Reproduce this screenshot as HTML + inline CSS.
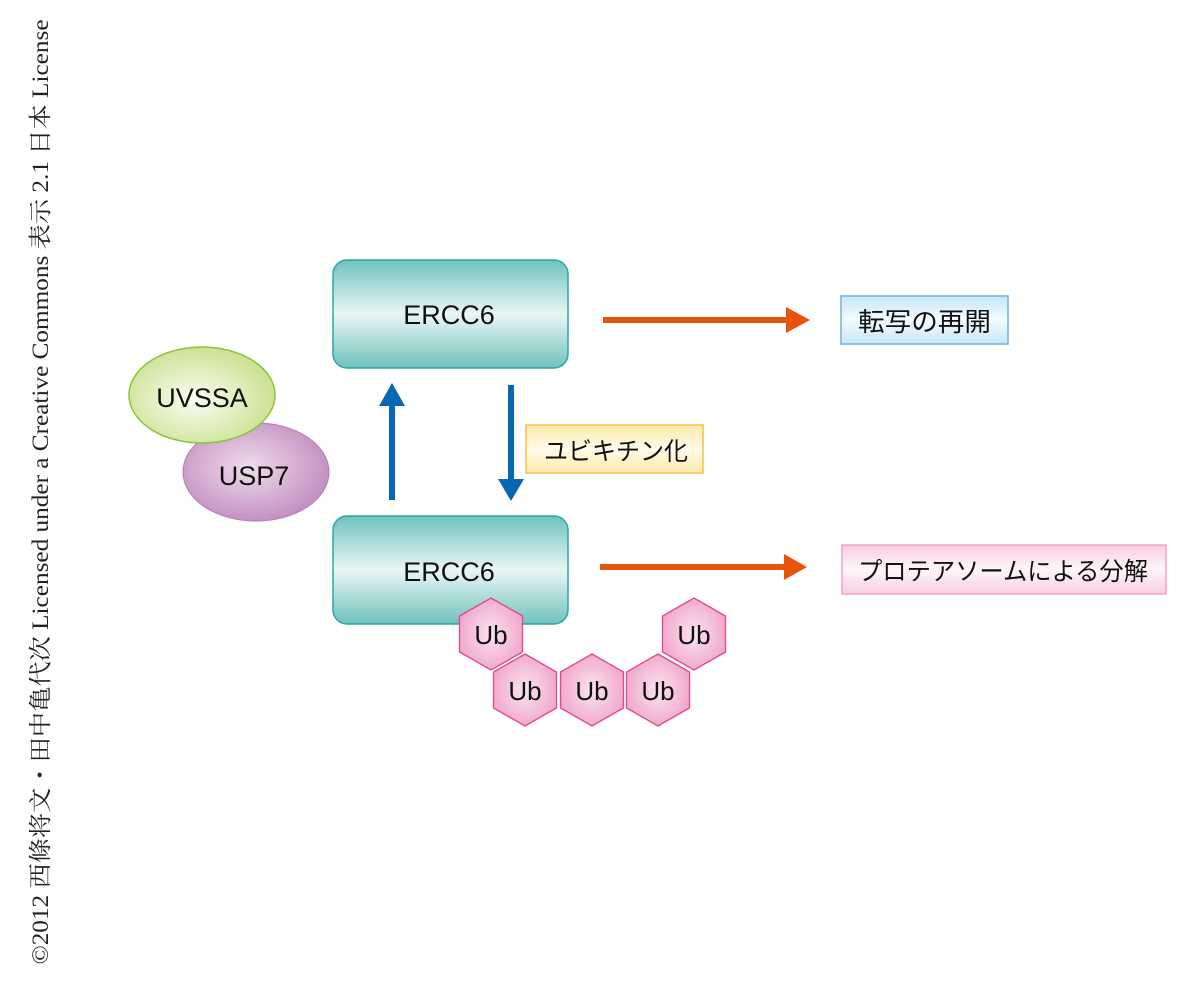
<!DOCTYPE html>
<html><head><meta charset="utf-8"><style>
html,body{margin:0;padding:0;background:#fff;width:1200px;height:986px;overflow:hidden}
</style></head><body>
<svg width="1200" height="986" viewBox="0 0 1200 986" xmlns="http://www.w3.org/2000/svg" font-family="'Liberation Sans','Noto Sans CJK JP',sans-serif">
<defs>
<linearGradient id="teal" x1="0" y1="0" x2="0" y2="1">
<stop offset="0" stop-color="#6fc2bd"/><stop offset="0.5" stop-color="#e9f6f5"/><stop offset="1" stop-color="#6fc2bd"/></linearGradient>
<radialGradient id="green" cx="0.45" cy="0.55" r="0.6"><stop offset="0" stop-color="#fbfdf3"/><stop offset="1" stop-color="#c6e08a"/></radialGradient>
<radialGradient id="purple" cx="0.45" cy="0.45" r="0.6"><stop offset="0" stop-color="#f0dcec"/><stop offset="1" stop-color="#bf8bbd"/></radialGradient>
<radialGradient id="pink" cx="0.5" cy="0.5" r="0.6"><stop offset="0" stop-color="#fbe4f0"/><stop offset="1" stop-color="#ef9fc6"/></radialGradient>
<linearGradient id="blue" x1="0" y1="0" x2="0" y2="1"><stop offset="0" stop-color="#c6e6f8"/><stop offset="0.5" stop-color="#f4fbff"/><stop offset="1" stop-color="#c6e6f8"/></linearGradient>
<linearGradient id="yellow" x1="0" y1="0" x2="0" y2="1"><stop offset="0" stop-color="#fde9a8"/><stop offset="0.5" stop-color="#fffbea"/><stop offset="1" stop-color="#fde9a8"/></linearGradient>
<linearGradient id="pinkbox" x1="0" y1="0" x2="0" y2="1"><stop offset="0" stop-color="#f8cde2"/><stop offset="0.5" stop-color="#fff6fa"/><stop offset="1" stop-color="#f8cde2"/></linearGradient>
<polygon id="hex" points="0,-36 31.5,-18 31.5,18 0,36 -31.5,18 -31.5,-18"/>
</defs>

<text transform="translate(48,492) rotate(-90)" text-anchor="middle" font-family="'Liberation Serif','Noto Serif CJK SC',serif" font-size="23" textLength="945" lengthAdjust="spacingAndGlyphs" fill="#222">©2012 西條将文・田中亀代次 Licensed under a Creative Commons 表示 2.1 日本 License</text>

<rect x="333" y="260" width="235" height="108" rx="14" fill="url(#teal)" stroke="#2ba8a3" stroke-width="1.5"/>
<text x="449" y="324" text-anchor="middle" font-size="27" fill="#111">ERCC6</text>
<rect x="333" y="516" width="235" height="108" rx="14" fill="url(#teal)" stroke="#2ba8a3" stroke-width="1.5"/>
<text x="449" y="581" text-anchor="middle" font-size="27" fill="#111">ERCC6</text>

<ellipse cx="256" cy="472" rx="73" ry="49" fill="url(#purple)" stroke="#b784b5" stroke-width="1.2"/>
<text x="254" y="485" text-anchor="middle" font-size="27" fill="#111">USP7</text>
<ellipse cx="202" cy="395" rx="73" ry="48" fill="url(#green)" stroke="#8cc43a" stroke-width="1.5"/>
<text x="202" y="407" text-anchor="middle" font-size="27" fill="#111">UVSSA</text>

<rect x="389" y="404" width="6" height="96" fill="#0568b5"/>
<polygon points="379,406 392,383 405,406" fill="#0568b5"/>
<rect x="508" y="385" width="6" height="96" fill="#0568b5"/>
<polygon points="498,479 511,501 524,479" fill="#0568b5"/>

<rect x="526" y="425" width="177" height="48" fill="url(#yellow)" stroke="#f5c04a" stroke-width="1.5"/>
<text x="544" y="460" font-size="25" textLength="144" lengthAdjust="spacingAndGlyphs" fill="#111">ユビキチン化</text>

<rect x="603" y="317" width="185" height="6" fill="#e8540c"/>
<polygon points="786,307 810,320 786,333" fill="#e8540c"/>
<rect x="600" y="564" width="186" height="6" fill="#e8540c"/>
<polygon points="784,554 807,567 784,580" fill="#e8540c"/>

<rect x="841" y="296" width="167" height="48" fill="url(#blue)" stroke="#6ab4e4" stroke-width="1.5"/>
<text x="858" y="331" font-size="26" textLength="133" lengthAdjust="spacingAndGlyphs" fill="#111">転写の再開</text>
<rect x="842" y="545" width="324" height="49" fill="url(#pinkbox)" stroke="#f0a4c8" stroke-width="1.5"/>
<text x="858" y="580" font-size="25" textLength="290" lengthAdjust="spacingAndGlyphs" fill="#111">プロテアソームによる分解</text>

<g fill="url(#pink)" stroke="#e0478f" stroke-width="1.3">
<use href="#hex" x="491" y="634"/>
<use href="#hex" x="525" y="690"/>
<use href="#hex" x="592" y="690"/>
<use href="#hex" x="658" y="690"/>
<use href="#hex" x="694" y="634"/>
</g>
<g font-size="26" text-anchor="middle" fill="#111">
<text x="491" y="644">Ub</text>
<text x="525" y="700">Ub</text>
<text x="592" y="700">Ub</text>
<text x="658" y="700">Ub</text>
<text x="694" y="644">Ub</text>
</g>
</svg>
</body></html>
